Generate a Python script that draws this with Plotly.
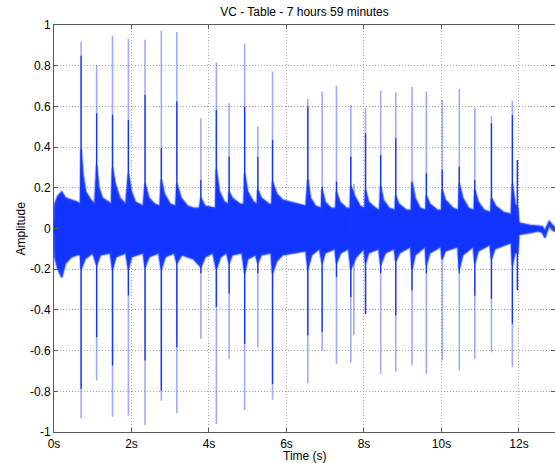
import plotly.graph_objects as go

# ---- Data ----
# Impulse (spike) times in seconds and their extreme amplitudes
spike_t = [0.70, 1.10, 1.51, 1.92, 2.35, 2.77, 3.17, 3.79, 4.19, 4.52, 4.92, 5.26, 5.64,
           6.55, 6.92, 7.29, 7.66, 7.74, 8.04, 8.43, 8.82, 9.24, 9.61, 10.02, 10.46, 10.86,
           11.29, 11.83, 11.96]
spike_max = [0.918, 0.804, 0.949, 0.932, 0.927, 0.972, 0.965, 0.542, 0.816, 0.616, 0.908, 0.500, 0.771,
             0.637, 0.673, 0.701, 0.607, 0.220, 0.594, 0.678, 0.668, 0.695, 0.673, 0.632, 0.685, 0.594,
             0.553, 0.629, 0.336]
spike_min = [-0.933, -0.747, -0.925, -0.920, -0.966, -0.846, -0.908, -0.542, -0.961, -0.640, -0.892, -0.583, -0.841,
             -0.760, -0.600, -0.665, -0.657, -0.525, -0.420, -0.714, -0.703, -0.673, -0.714, -0.649, -0.698, -0.640,
             -0.608, -0.682, -0.304]
# Denser (darker) inner part of each spike
core_max = [0.849, 0.566, 0.559, 0.533, 0.657, 0.394, 0.624, 0.238, 0.583, 0.353, 0.599, 0.353, 0.435,
            0.599, 0.205, 0.230, 0.353, 0.100, 0.468, 0.361, 0.443, 0.220, 0.271, 0.287, 0.304, 0.238,
            0.517, 0.558, 0.336]
core_min = [-0.787, -0.534, -0.673, -0.329, -0.649, -0.797, -0.583, -0.220, -0.386, -0.320, -0.567, -0.220, -0.764,
            -0.526, -0.509, -0.238, -0.337, -0.100, -0.420, -0.220, -0.427, -0.304, -0.220, -0.150, -0.220, -0.330,
            -0.345, -0.468, -0.304]

# Upper envelope of the dense waveform (time, amplitude)
env_up_t = [0.00, 0.02, 0.10, 0.20, 0.30, 0.45, 0.60, 0.68,
            0.70, 0.75, 0.82, 0.95, 1.05,
            1.10, 1.16, 1.25, 1.40, 1.48,
            1.51, 1.58, 1.70, 1.85,
            1.92, 2.00, 2.10, 2.30,
            2.35, 2.45, 2.60, 2.73,
            2.77, 2.85, 3.00, 3.14,
            3.17, 3.28, 3.45, 3.60, 3.75,
            3.79, 3.90, 4.10, 4.17,
            4.19, 4.27, 4.40, 4.50,
            4.52, 4.60, 4.80, 4.90,
            4.92, 5.00, 5.15, 5.24,
            5.26, 5.35, 5.55, 5.62,
            5.64, 5.75, 5.90, 6.10, 6.30, 6.50,
            6.55, 6.62, 6.75, 6.90,
            6.92, 7.00, 7.15, 7.27,
            7.29, 7.38, 7.55, 7.64,
            7.66, 7.76, 7.90, 8.02,
            8.04, 8.12, 8.30, 8.40,
            8.43, 8.50, 8.65, 8.80,
            8.82, 8.90, 9.10, 9.22,
            9.24, 9.32, 9.45, 9.60,
            9.61, 9.70, 9.90, 10.00,
            10.02, 10.10, 10.30, 10.44,
            10.46, 10.55, 10.70, 10.84,
            10.86, 10.95, 11.10, 11.27,
            11.29, 11.40, 11.60, 11.80,
            11.83, 11.90, 11.97, 12.00, 12.05, 12.30, 12.50, 12.60, 12.67, 12.78, 12.85, 12.93]
env_up_v = [0.02, 0.12, 0.16, 0.18, 0.15, 0.14, 0.13, 0.12,
            0.39, 0.26, 0.18, 0.14, 0.12,
            0.31, 0.20, 0.15, 0.13, 0.12,
            0.30, 0.22, 0.15, 0.12,
            0.27, 0.18, 0.13, 0.11,
            0.22, 0.15, 0.12, 0.11,
            0.24, 0.17, 0.12, 0.11,
            0.22, 0.15, 0.11, 0.10, 0.10,
            0.15, 0.11, 0.10, 0.10,
            0.29, 0.18, 0.13, 0.12,
            0.18, 0.15, 0.12, 0.12,
            0.27, 0.18, 0.13, 0.12,
            0.19, 0.15, 0.12, 0.12,
            0.23, 0.17, 0.14, 0.13, 0.12, 0.11,
            0.24, 0.15, 0.11, 0.10,
            0.19, 0.13, 0.10, 0.10,
            0.18, 0.13, 0.10, 0.10,
            0.21, 0.16, 0.11, 0.10,
            0.19, 0.13, 0.10, 0.09,
            0.21, 0.14, 0.10, 0.09,
            0.16, 0.12, 0.09, 0.09,
            0.23, 0.15, 0.10, 0.09,
            0.16, 0.12, 0.09, 0.09,
            0.19, 0.14, 0.10, 0.09,
            0.22, 0.15, 0.10, 0.09,
            0.19, 0.13, 0.09, 0.08,
            0.15, 0.11, 0.08, 0.07,
            0.22, 0.12, 0.10, 0.03, 0.025, 0.015, 0.012, 0.010, -0.010, 0.035, 0.020, 0.005]

# Lower envelope of the dense waveform (time, amplitude)
env_lo_t = [0.00, 0.02, 0.10, 0.20, 0.30, 0.45, 0.60, 0.68,
            0.70, 0.80, 1.00,
            1.10, 1.20, 1.45,
            1.51, 1.60, 1.85,
            1.92, 2.00, 2.30,
            2.35, 2.45, 2.70,
            2.77, 2.87, 3.10,
            3.17, 3.30, 3.60,
            3.79, 3.90, 4.10,
            4.19, 4.30, 4.45,
            4.52, 4.60, 4.85,
            4.92, 5.00, 5.20,
            5.26, 5.35, 5.60,
            5.64, 5.75, 5.90, 6.20, 6.50,
            6.55, 6.65, 6.85,
            6.92, 7.00, 7.25,
            7.29, 7.40, 7.60,
            7.66, 7.80, 8.00,
            8.04, 8.12, 8.38,
            8.43, 8.55, 8.78,
            8.82, 8.92, 9.20,
            9.24, 9.32, 9.58,
            9.61, 9.70, 9.98,
            10.02, 10.10, 10.42,
            10.46, 10.55, 10.82,
            10.86, 10.95, 11.25,
            11.29, 11.38, 11.80,
            11.83, 11.90, 11.97, 12.00, 12.05, 12.30, 12.50, 12.60, 12.67, 12.78, 12.85, 12.93]
env_lo_v = [-0.02, -0.14, -0.20, -0.24, -0.17, -0.14, -0.13, -0.13,
            -0.20, -0.15, -0.12,
            -0.18, -0.13, -0.12,
            -0.20, -0.14, -0.12,
            -0.20, -0.14, -0.12,
            -0.19, -0.14, -0.12,
            -0.20, -0.14, -0.12,
            -0.17, -0.13, -0.15,
            -0.19, -0.14, -0.12,
            -0.20, -0.14, -0.12,
            -0.17, -0.13, -0.12,
            -0.22, -0.15, -0.13,
            -0.17, -0.13, -0.12,
            -0.22, -0.16, -0.13, -0.12, -0.11,
            -0.20, -0.13, -0.10,
            -0.17, -0.12, -0.10,
            -0.17, -0.12, -0.10,
            -0.20, -0.14, -0.10,
            -0.17, -0.12, -0.10,
            -0.18, -0.12, -0.10,
            -0.16, -0.12, -0.09,
            -0.20, -0.13, -0.09,
            -0.18, -0.12, -0.09,
            -0.15, -0.11, -0.09,
            -0.20, -0.13, -0.09,
            -0.17, -0.11, -0.08,
            -0.15, -0.10, -0.07,
            -0.18, -0.12, -0.12, -0.03, -0.030, -0.020, -0.012, -0.020, -0.045, 0.015, -0.005, -0.015]

y_ticks = [-1, -0.8, -0.6, -0.4, -0.2, 0, 0.2, 0.4, 0.6, 0.8, 1]
y_labels = ["-1", "-0.8", "-0.6", "-0.4", "-0.2", "0", "0.2", "0.4", "0.6", "0.8", "1"]
x_ticks = [0, 2, 4, 6, 8, 10, 12]
x_labels = ["0s", "2s", "4s", "6s", "8s", "10s", "12s"]

title_text = "VC - Table - 7 hours 59 minutes"
x_title = "Time (s)"
y_title = "Amplitude"

BLUE = "#1234ff"
FONT = "Liberation Sans, Arial, sans-serif"

fig = go.Figure()

# Dense waveform body as a closed polygon, with a soft halo edge
poly_x = env_up_t + env_lo_t[::-1]
poly_y = env_up_v + env_lo_v[::-1]
fig.add_trace(go.Scatter(x=poly_x, y=poly_y, mode="lines", fill="toself",
                         fillcolor=BLUE, line=dict(color="rgba(40,75,255,0.35)", width=3),
                         hoverinfo="skip", showlegend=False))
fig.add_trace(go.Scatter(x=poly_x, y=poly_y, mode="lines",
                         line=dict(color="rgba(20,55,255,0.7)", width=1.2),
                         hoverinfo="skip", showlegend=False))

# Light full-extent spikes
sx, sy = [], []
for t, lo, hi in zip(spike_t, spike_min, spike_max):
    sx += [t, t, None]
    sy += [lo, hi, None]
fig.add_trace(go.Scatter(x=sx, y=sy, mode="lines",
                         line=dict(color="rgba(40,70,255,0.45)", width=1.6),
                         hoverinfo="skip", showlegend=False))

# Darker dense cores of spikes
cx, cy = [], []
for t, lo, hi in zip(spike_t, core_min, core_max):
    cx += [t, t, None]
    cy += [lo, hi, None]
fig.add_trace(go.Scatter(x=cx, y=cy, mode="lines",
                         line=dict(color=BLUE, width=1.3),
                         hoverinfo="skip", showlegend=False))

axis_common = dict(
    showgrid=True, gridcolor="#a8a8a8", griddash="1px,2px", gridwidth=1,
    zeroline=False, showline=True, linecolor="#5a5a5a", linewidth=1,
    ticks="inside", ticklen=4, tickcolor="#5a5a5a",
    tickfont=dict(family=FONT, size=12, color="#000000"),
)

fig.update_xaxes(range=[0, 12.93], tickvals=x_ticks, ticktext=x_labels,
                 mirror="allticks", ticklabelstandoff=1, **axis_common)
fig.update_yaxes(range=[-1, 1], tickvals=y_ticks, ticktext=y_labels,
                 mirror="allticks", **axis_common)

fig.update_layout(
    width=555, height=463,
    margin=dict(l=54, r=0, t=25, b=31),
    paper_bgcolor="white", plot_bgcolor="white",
    title=dict(text=title_text, x=0.5, xref="paper", xanchor="center",
               y=1 - 12 / 463, yanchor="middle",
               font=dict(family=FONT, size=12, color="#000000")),
    annotations=[
        dict(text=x_title, xref="paper", yref="paper", x=0.5, y=0, xanchor="center",
             yanchor="middle", yshift=-24, showarrow=False,
             font=dict(family=FONT, size=12, color="#000000")),
        dict(text=y_title, xref="paper", yref="paper", x=0, y=0.5, xanchor="center",
             yanchor="middle", xshift=-34, textangle=-90, showarrow=False,
             font=dict(family=FONT, size=12, color="#000000")),
    ],
)

fig.write_html("out.html", config={"displayModeBar": False},
               post_script="document.body.style.margin='0';document.body.style.overflow='hidden';")
